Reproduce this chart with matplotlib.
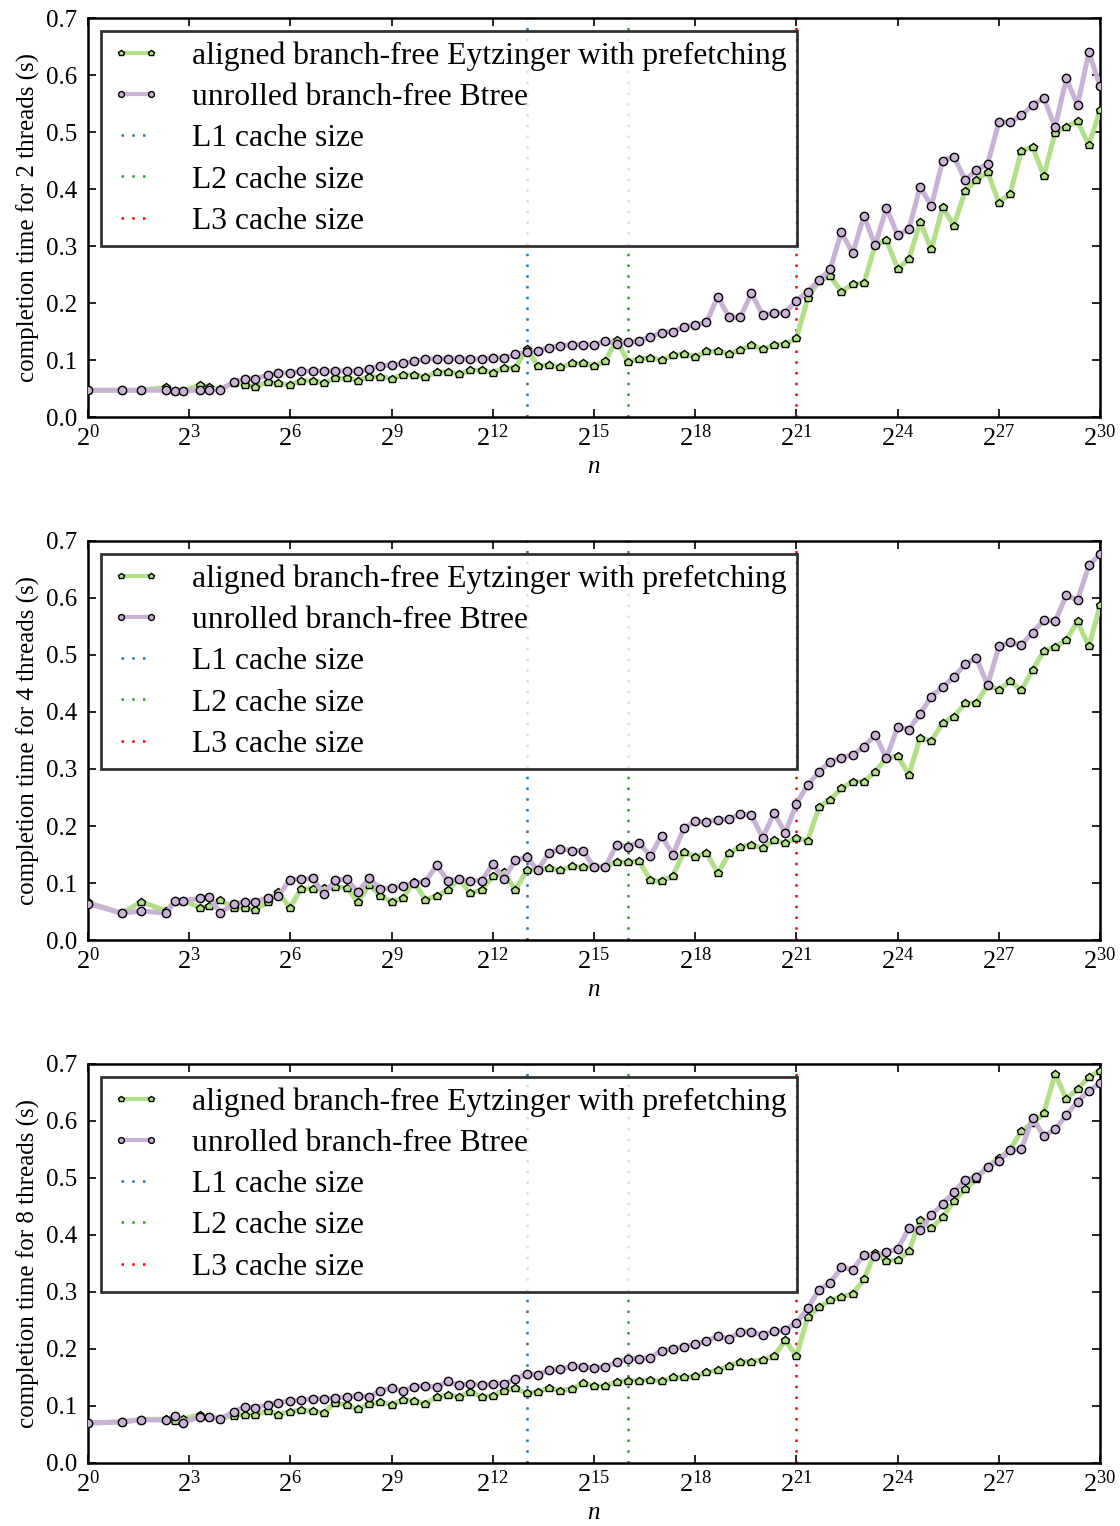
import matplotlib
matplotlib.use("Agg")
import matplotlib.pyplot as plt
import numpy as np

plt.rcParams['font.family'] = 'Liberation Serif'
plt.rcParams['mathtext.fontset'] = 'custom'
plt.rcParams['mathtext.rm'] = 'Liberation Serif'
plt.rcParams['mathtext.it'] = 'Liberation Serif:italic'

# array sizes n (benchmark grid, roughly 2^(k/3))
sizes = [1, 2, 3, 5, 6, 7, 10, 12, 15, 20, 25, 31, 40, 50, 63,
         80, 101, 127, 161, 203, 255, 322, 406, 511, 645, 812, 1023,
         1290, 1625, 2047, 2580, 3250, 4095, 5160, 6501, 8191,
         10321, 13003, 16383, 20642, 26007, 32767, 41285, 52015, 65535,
         82570, 104031, 131071, 165140, 208063, 262143, 330280, 416127, 524287,
         660560, 832254, 1048575, 1321121, 1664510, 2097151,
         2642242, 3329021, 4194303, 5284485, 6658042, 8388607,
         10568970, 13316085, 16777215, 21137940, 26632170, 33554431,
         42275881, 53264340, 67108863, 84551762, 106528681, 134217727,
         169103524, 213057363, 268435455, 338207049, 426114726, 536870911,
         676414099, 852229453, 1073741823]

# completion times (s), 2 threads
eytz_2 = [0.047, 0.047, 0.047, 0.052, 0.046, 0.046, 0.056, 0.053, 0.049, 0.060, 0.056, 0.053, 0.061, 0.059, 0.056,
          0.064, 0.063, 0.060, 0.068, 0.068, 0.064, 0.071, 0.071, 0.067, 0.074, 0.074, 0.070, 0.079, 0.079, 0.076,
          0.082, 0.082, 0.078, 0.086, 0.086,
          0.120, 0.090, 0.091, 0.087, 0.094, 0.095, 0.090, 0.098, 0.136, 0.097, 0.102, 0.104, 0.100, 0.108, 0.111,
          0.106, 0.115, 0.116, 0.111, 0.118, 0.126, 0.119, 0.126, 0.128, 0.138, 0.208,
          0.239, 0.247, 0.220, 0.233, 0.235, 0.301, 0.311, 0.260, 0.277, 0.342, 0.294, 0.368, 0.336, 0.397, 0.416,
          0.430, 0.376, 0.392, 0.467, 0.474, 0.423, 0.499, 0.509, 0.519, 0.477, 0.539]
btree_2 = [0.047, 0.047, 0.047, 0.047, 0.045, 0.045, 0.048, 0.048, 0.048, 0.061, 0.067, 0.067, 0.074, 0.077, 0.078,
           0.080, 0.081, 0.081, 0.081, 0.081, 0.081, 0.084, 0.090, 0.091, 0.094, 0.098, 0.102, 0.102, 0.102, 0.102,
           0.102, 0.102, 0.103, 0.104, 0.110,
           0.114, 0.116, 0.122, 0.125, 0.127, 0.127, 0.127, 0.133, 0.129, 0.131, 0.133, 0.141, 0.148, 0.150, 0.158,
           0.162, 0.166, 0.211, 0.175, 0.175, 0.217, 0.179, 0.182, 0.183, 0.204, 0.220,
           0.240, 0.259, 0.325, 0.287, 0.353, 0.301, 0.367, 0.319, 0.330, 0.404, 0.370, 0.450, 0.457, 0.416, 0.433,
           0.444, 0.517, 0.517, 0.529, 0.547, 0.560, 0.508, 0.594, 0.547, 0.640, 0.581]

# 4 threads
eytz_4 = [0.066, 0.047, 0.067, 0.051, 0.069, 0.069, 0.057, 0.060, 0.070, 0.057, 0.056, 0.053, 0.066, 0.085, 0.056,
          0.090, 0.090, 0.091, 0.093, 0.092, 0.067, 0.097, 0.078, 0.067, 0.074, 0.102, 0.071, 0.077, 0.088, 0.107,
          0.082, 0.088, 0.112, 0.119, 0.087,
          0.122, 0.123, 0.126, 0.122, 0.129, 0.128, 0.128, 0.128, 0.137, 0.136, 0.139, 0.105, 0.103, 0.112, 0.155,
          0.146, 0.153, 0.117, 0.152, 0.164, 0.167, 0.161, 0.175, 0.170, 0.179, 0.174,
          0.234, 0.246, 0.266, 0.278, 0.278, 0.295, 0.319, 0.323, 0.290, 0.355, 0.349, 0.381, 0.392, 0.415, 0.416,
          0.447, 0.439, 0.454, 0.438, 0.474, 0.507, 0.514, 0.526, 0.559, 0.515, 0.587]
btree_4 = [0.064, 0.047, 0.051, 0.047, 0.069, 0.069, 0.073, 0.076, 0.048, 0.063, 0.067, 0.067, 0.074, 0.077, 0.106,
           0.107, 0.108, 0.081, 0.105, 0.107, 0.084, 0.108, 0.090, 0.091, 0.095, 0.100, 0.102, 0.131, 0.104, 0.107,
           0.104, 0.104, 0.133, 0.107, 0.140,
           0.145, 0.123, 0.153, 0.160, 0.157, 0.157, 0.128, 0.128, 0.167, 0.164, 0.171, 0.147, 0.183, 0.150, 0.196,
           0.208, 0.207, 0.211, 0.212, 0.221, 0.219, 0.179, 0.223, 0.188, 0.239, 0.272,
           0.295, 0.313, 0.320, 0.325, 0.339, 0.360, 0.319, 0.374, 0.369, 0.397, 0.427, 0.444, 0.461, 0.484, 0.495,
           0.447, 0.515, 0.522, 0.518, 0.539, 0.561, 0.559, 0.605, 0.596, 0.657, 0.677]

# 8 threads
eytz_8 = [0.070, 0.072, 0.076, 0.077, 0.074, 0.077, 0.085, 0.081, 0.078, 0.083, 0.085, 0.084, 0.092, 0.085, 0.090,
          0.093, 0.091, 0.088, 0.106, 0.101, 0.094, 0.103, 0.107, 0.102, 0.111, 0.109, 0.104, 0.116, 0.119, 0.116,
          0.125, 0.116, 0.118, 0.127, 0.131,
          0.122, 0.125, 0.131, 0.127, 0.130, 0.140, 0.135, 0.135, 0.142, 0.144, 0.144, 0.146, 0.143, 0.150, 0.150,
          0.152, 0.159, 0.163, 0.170, 0.177, 0.178, 0.181, 0.187, 0.215, 0.188, 0.256,
          0.273, 0.286, 0.291, 0.297, 0.322, 0.369, 0.355, 0.356, 0.371, 0.426, 0.412, 0.431, 0.459, 0.480, 0.498,
          0.520, 0.535, 0.549, 0.583, 0.596, 0.614, 0.682, 0.639, 0.656, 0.677, 0.688]
btree_8 = [0.070, 0.072, 0.076, 0.075, 0.083, 0.071, 0.081, 0.081, 0.077, 0.090, 0.099, 0.097, 0.102, 0.106, 0.109,
           0.110, 0.113, 0.113, 0.114, 0.116, 0.118, 0.115, 0.127, 0.131, 0.126, 0.134, 0.135, 0.133, 0.143, 0.136,
           0.139, 0.136, 0.139, 0.139, 0.147,
           0.156, 0.155, 0.163, 0.164, 0.170, 0.168, 0.167, 0.169, 0.177, 0.183, 0.183, 0.185, 0.197, 0.200, 0.204,
           0.208, 0.214, 0.222, 0.218, 0.230, 0.230, 0.224, 0.231, 0.233, 0.246, 0.271,
           0.304, 0.316, 0.343, 0.339, 0.365, 0.363, 0.370, 0.375, 0.412, 0.408, 0.435, 0.454, 0.475, 0.497, 0.502,
           0.519, 0.530, 0.549, 0.550, 0.606, 0.573, 0.585, 0.610, 0.634, 0.653, 0.666]

threads = [2, 4, 8]
eytz_times = [eytz_2, eytz_4, eytz_8]
btree_times = [btree_2, btree_4, btree_8]

# cache sizes as array lengths
cache_sizes = [2**13, 2**16, 2**21]
cache_labels = ['L1 cache size', 'L2 cache size', 'L3 cache size']
cache_colors = ['#1f77b4', '#2ca02c', '#ff0000']

x_exponents = list(range(0, 31, 3))
y_ticks = [0.0, 0.1, 0.2, 0.3, 0.4, 0.5, 0.6, 0.7]

fig = plt.figure(figsize=(11.2, 15.26), dpi=100)
bottoms = [0.7267, 0.3840, 0.0413]

for i, nthreads in enumerate(threads):
    ax = fig.add_axes([0.0786, bottoms[i], 0.9036, 0.2615])
    ax.set_xscale('log', base=2)

    ax.plot(sizes, eytz_times[i], color='#b2df8a', lw=3.6, marker='p', ms=6.2,
            mfc='#b2df8a', mec='black', mew=1.0, zorder=3,
            label='aligned branch-free Eytzinger with prefetching')
    ax.plot(sizes, btree_times[i], color='#cab2d6', lw=3.6, marker='o', ms=6.0,
            mfc='#cab2d6', mec='black', mew=1.0, zorder=3,
            label='unrolled branch-free Btree')
    for c, lab, col in zip(cache_sizes, cache_labels, cache_colors):
        ax.axvline(c, color=col, lw=1.8, ls=(0, (1, 3.3)), zorder=2, label=lab)

    ax.set_xlim(2**0, 2**30)
    ax.set_ylim(0, 0.7)
    ax.set_xticks([2**e for e in x_exponents])
    ax.set_xticklabels(['$2^{%d}$' % e for e in x_exponents], fontsize=19)
    ax.xaxis.set_minor_locator(matplotlib.ticker.NullLocator())
    ax.set_yticks(y_ticks)
    ax.set_yticklabels(['%.1f' % v for v in y_ticks], fontsize=18)
    ax.tick_params(direction='in', top=True, right=True, length=6, width=1.2)
    ax.tick_params(axis='x', pad=5)
    ax.tick_params(axis='y', pad=8)
    for sp in ax.spines.values():
        sp.set_linewidth(1.8)

    ax.set_xlabel('$n$', fontsize=18, labelpad=4)
    ax.set_ylabel('completion time for %d threads (s)' % nthreads, fontsize=18)

    leg = ax.legend(loc='upper left', fontsize=22.8, framealpha=0.8, fancybox=False,
                    edgecolor='black', borderaxespad=0.42, handlelength=1.55,
                    handletextpad=1.0, labelspacing=0.38, markerscale=0.7,
                    numpoints=2, borderpad=0.32)
    leg.get_frame().set_linewidth(2)
    leg.set_zorder(5)
    for h in leg.get_lines()[:2]:
        h.set_linewidth(3.0)

fig.savefig('out.png', dpi=100)
